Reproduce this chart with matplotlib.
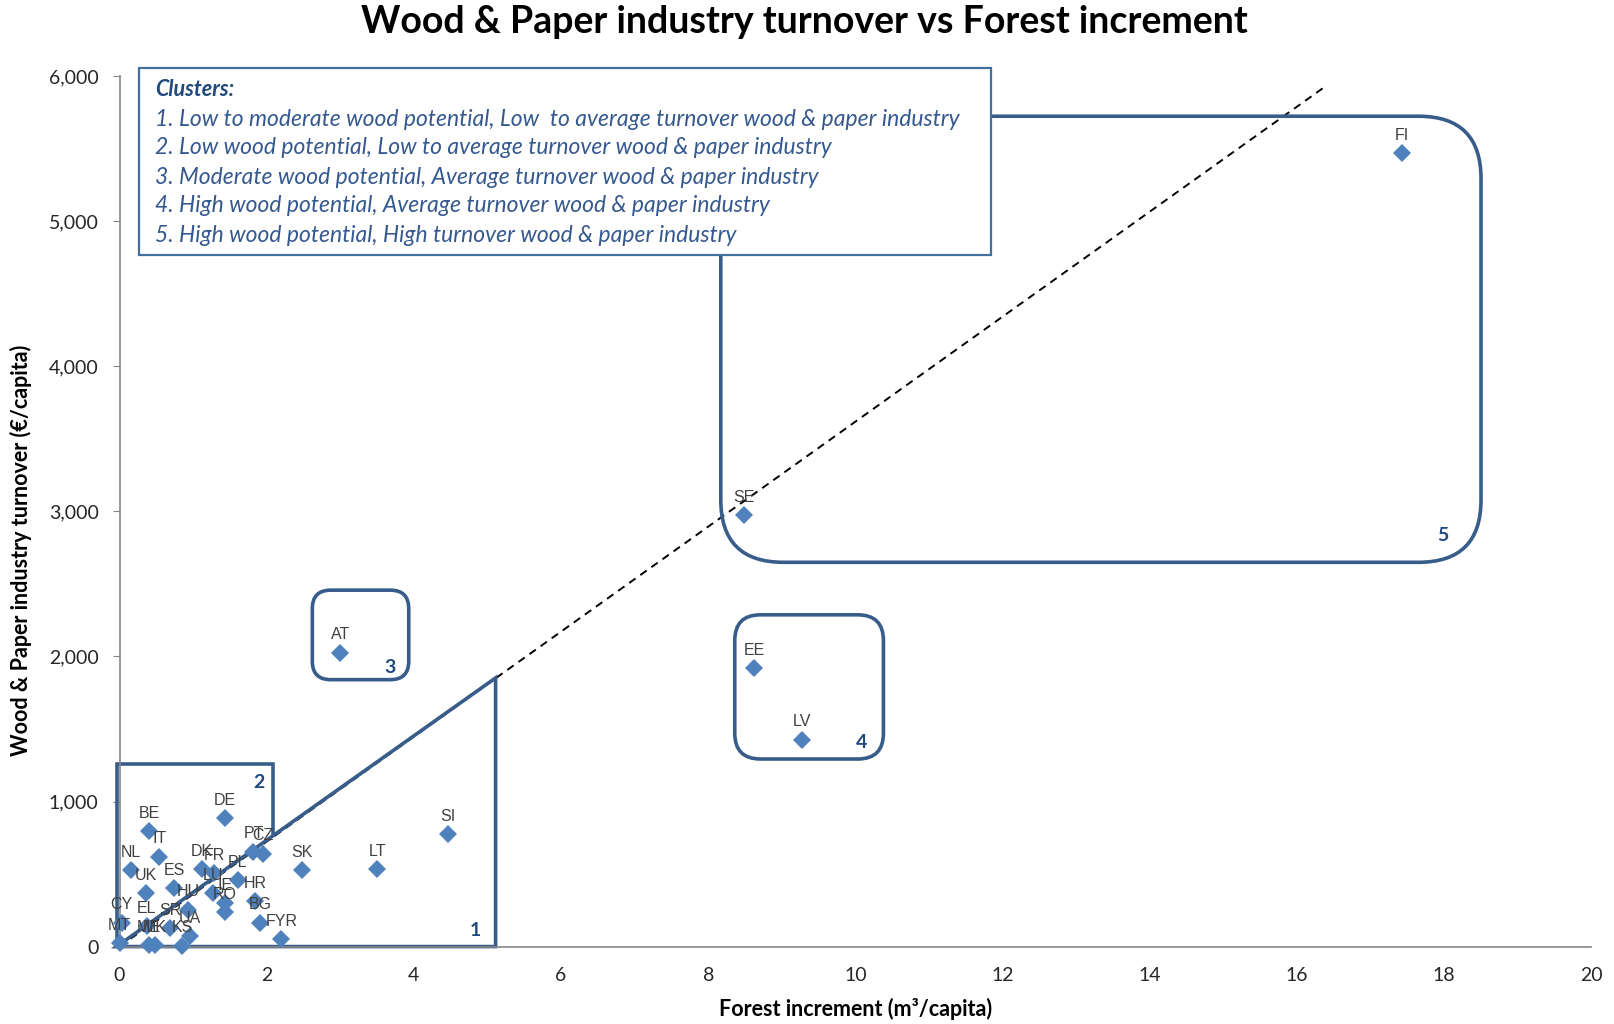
import matplotlib.pyplot as plt
from matplotlib.patches import FancyBboxPatch, Polygon

# country codes, forest increment (m3/capita) and wood & paper turnover (EUR/capita)
countries = ["FI", "SE", "EE", "LV", "AT", "SI", "LT", "SK", "DE", "BE", "IT", "NL",
             "UK", "ES", "DK", "FR", "PT", "CZ", "PL", "LU", "IE", "RO", "HR", "BG",
             "FYR", "HU", "SR", "UA", "KS", "EL", "CY", "MT", "ME", "MK"]
increment = [17.43, 8.48, 8.62, 9.27, 3.00, 4.46, 3.50, 2.48, 1.43, 0.40, 0.54, 0.15,
             0.36, 0.74, 1.12, 1.29, 1.82, 1.95, 1.61, 1.27, 1.43, 1.43, 1.84, 1.91,
             2.20, 0.93, 0.69, 0.96, 0.85, 0.37, 0.03, 0.00, 0.40, 0.48]
turnover = [5470, 2975, 1920, 1425, 2025, 775, 535, 528, 884, 797, 620, 528,
            367, 402, 535, 505, 654, 640, 459, 367, 300, 235, 312, 165,
            50, 255, 126, 70, 5, 140, 165, 25, 10, 10]

# trend line end points
trend_x = [0, 16.4]
trend_y = [0, 5935]

cluster_titles = [
    "1. Low to moderate wood potential, Low  to average turnover wood & paper industry",
    "2. Low wood potential, Low to average turnover wood & paper industry",
    "3. Moderate wood potential, Average turnover wood & paper industry",
    "4. High wood potential, Average turnover wood & paper industry",
    "5. High wood potential, High turnover wood & paper industry",
]

MARKER = "#4F81BD"
SHAPE = "#385D8A"
NUMC = "#1F497D"
AXISC = "#868686"
TXT = "#404040"
CAL = ["Lato", "DejaVu Sans"]

fig = plt.figure(figsize=(16.15, 10.24), dpi=100)
ax = fig.add_axes([0.074, 0.0756, 0.9114, 0.85])
ax.set_xlim(0, 20)
ax.set_ylim(0, 6000)

for s in ("top", "right"):
    ax.spines[s].set_visible(False)
for s in ("left", "bottom"):
    ax.spines[s].set_color(AXISC)
    ax.spines[s].set_linewidth(1.2)

ax.set_xticks(range(0, 21, 2))
ax.set_yticks(range(0, 6001, 1000))
ax.set_yticklabels([f"{v:,}" for v in range(0, 6001, 1000)])
ax.tick_params(axis="x", length=0, pad=15, labelsize=14, labelcolor="#262626")
ax.tick_params(axis="y", length=5, color=AXISC, pad=10, labelsize=14, labelcolor="#262626")
for lab in ax.get_xticklabels() + ax.get_yticklabels():
    lab.set_family(CAL)

ax.set_xlabel("Forest increment (m³/capita)", fontsize=15.5, fontweight="bold",
              family=CAL, labelpad=10)
ax.set_ylabel("Wood & Paper industry turnover (€/capita)", fontsize=15.5,
              fontweight="bold", family=CAL)
ax.yaxis.set_label_coords(-0.0594, 0.4557)
fig.suptitle("Wood & Paper industry turnover vs Forest increment", x=0.498, y=0.995,
             fontsize=27, fontweight="bold", family=CAL)

# pixel aspect so rounded corners look circular on screen
p0 = ax.transData.transform((0, 0))
p1 = ax.transData.transform((1, 1))
aspect = (p1[0] - p0[0]) / (p1[1] - p0[1])


def rbox(x0, y0, x1, y1, r):
    box = FancyBboxPatch((x0, y0), x1 - x0, y1 - y0,
                         boxstyle=f"round,pad=0,rounding_size={r}",
                         mutation_aspect=aspect, fill=False, ec=SHAPE, lw=2.6,
                         clip_on=False, zorder=2)
    ax.add_patch(box)


# cluster outlines
ax.add_patch(Polygon([(-0.04, 0), (5.11, 0), (5.11, 1852)], closed=True, fill=False,
                     ec=SHAPE, lw=2.6, clip_on=False, zorder=2))
ax.add_patch(Polygon([(-0.04, 0), (-0.04, 1257), (2.09, 1257), (2.09, 757)],
                     closed=False, fill=False, ec=SHAPE, lw=2.6, clip_on=False, zorder=2))
rbox(2.62, 1840, 3.93, 2457, 0.25)
rbox(8.36, 1293, 10.38, 2287, 0.35)
rbox(8.17, 2649, 18.50, 5724, 0.85)

for num, (nx, ny) in zip("12345", [(4.84, 114), (1.90, 1129), (3.68, 1925),
                                   (10.08, 1406), (17.98, 2834)]):
    ax.text(nx, ny, num, color=NUMC, fontsize=14, fontweight="bold", family=CAL,
            ha="center", va="center", zorder=4)

ax.plot(trend_x, trend_y, ls=(0, (4, 3)), color="black", lw=1.4, zorder=1)

ax.plot(increment, turnover, ls="none", marker="D", ms=9, mew=0, color=MARKER,
        zorder=3, clip_on=False)
for c, xv, yv in zip(countries, increment, turnover):
    ax.annotate(c, (xv, yv), xytext=(0, 7.5), textcoords="offset points", ha="center",
                va="bottom", fontsize=11.5, color=TXT, family=["Liberation Sans", "DejaVu Sans"],
                zorder=4, annotation_clip=False)

# cluster legend box
lx0, ly0, lx1, ly1 = 139 / 1615, 1 - 255 / 1024, 991 / 1615, 1 - 68 / 1024
fig.patches.append(plt.Rectangle((lx0, ly0), lx1 - lx0, ly1 - ly0, transform=fig.transFigure,
                                 fill=True, fc="white", ec="#41719C", lw=1.6, zorder=5))
fig.text(155 / 1615, 1 - 90 / 1024, "Clusters:", color=NUMC, fontsize=15.5,
         fontweight="bold", style="italic", family=CAL, va="center", zorder=6)
for i, t in enumerate(cluster_titles):
    fig.text(155 / 1615, 1 - (119 + i * 29) / 1024, t, color="#35598F", fontsize=16.5,
             style="italic", family=CAL, va="center", zorder=6)

fig.savefig("out.png", dpi=100)
